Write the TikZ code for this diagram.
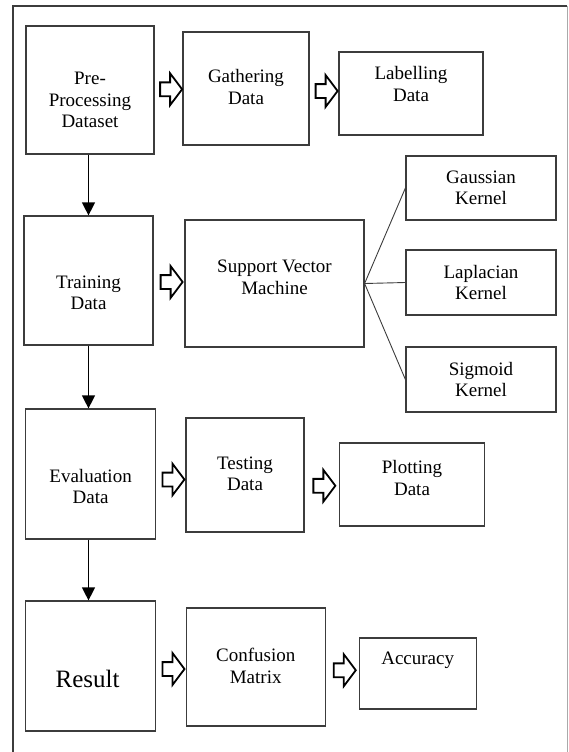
\documentclass[tikz,border=0pt]{standalone}
\usepackage{fontspec}
\setmainfont{Liberation Serif}
\newfontfamily\figfont{Liberation Serif}
\usetikzlibrary{calc,arrows.meta,positioning,shapes.arrows}
\definecolor{boxgray}{RGB}{60,60,60}
\definecolor{framegray}{RGB}{170,170,170}

\begin{document}
\begin{tikzpicture}[x=1pt,y=-1pt,
  blk/.style={draw=boxgray, line width=1.2pt, inner sep=0pt},
  txt/.style={align=center, font=\figfont\fontsize{19}{21.5}\selectfont, inner sep=0pt},
  hollow/.style={single arrow, draw=black, fill=white, line width=1.8pt,
    inner xsep=0pt, inner ysep=6pt, text height=0pt, text depth=0pt,
    minimum height=22pt, single arrow head extend=9pt, single arrow tip angle=106},
  down/.style={-{Triangle[width=13pt,length=13pt]}, line width=1.2pt},
  kern/.style={draw=boxgray, line width=0.9pt}]
\useasboundingbox (0,0) rectangle (568,752);
% frame
\draw[boxgray, line width=1.2pt] (13,752) -- (13,6) -- (567,6);
\draw[framegray, line width=1pt] (567,6) -- (567,752);

% row 1
\node[blk, minimum width=128, minimum height=128] (pre) at (90,90) {};
\node[txt] (preT) at ($(pre)+(0,10)$) {Pre-\\Processing\\Dataset};
\node[blk, minimum width=126, minimum height=113] (gat) at (246,88.5) {};
\node[txt] (gatT) at ($(gat)+(0,-1.5)$) {Gathering\\Data};
\node[blk, minimum width=144, minimum height=83] (lab) at (411,93.5) {};
\node[txt] (labT) at ($(lab)+(0,-9.5)$) {Labelling\\Data};

% row 2
\node[blk, minimum width=129, minimum height=129] (train) at (88.5,280.5) {};
\node[txt] (trainT) at ($(train)+(0,12.5)$) {Training\\Data};
\node[blk, minimum width=179, minimum height=127] (svm) at (274.5,283.5) {};
\node[txt] (svmT) at ($(svm)+(0,-6)$) {Support Vector\\Machine};
\node[blk, minimum width=150, minimum height=64] (gau) at (481,188) {};
\node[txt] (gauT) at (gau) {Gaussian\\Kernel};
\node[blk, minimum width=150, minimum height=65] (lap) at (481,282.5) {};
\node[txt] (lapT) at (lap) {Laplacian\\Kernel};
\node[blk, minimum width=150, minimum height=65] (sig) at (481,379.5) {};
\node[txt] (sigT) at (sig) {Sigmoid\\Kernel};

% row 3
\node[blk, minimum width=130, minimum height=130] (eval) at (90.6,474) {};
\node[txt] (evalT) at ($(eval)+(0,12.5)$) {Evaluation\\Data};
\node[blk, minimum width=118, minimum height=114] (test) at (245,475) {};
\node[txt] (testT) at ($(test)+(0,-1)$) {Testing\\Data};
\node[blk, minimum width=145, minimum height=83] (plot) at (412,484.5) {};
\node[txt] (plotT) at ($(plot)+(0,-6.5)$) {Plotting\\Data};

% row 4
\node[blk, minimum width=130, minimum height=130] (res) at (90.6,666) {};
\node[txt, font=\figfont\fontsize{25}{28}\selectfont] (resT) at ($(res)+(-3,12.5)$) {Result};
\node[blk, minimum width=139, minimum height=118] (conf) at (255.7,667) {};
\node[txt] (confT) at ($(conf)+(0,-1)$) {Confusion\\Matrix};
\node[blk, minimum width=117, minimum height=71] (acc) at (417.7,673.5) {};
\node[txt] (accT) at ($(acc)+(0,-13.5)$) {Accuracy};

% hollow arrows
\node[hollow] (h1) at ($(pre.east)!0.5!(gat.west)$) {};
\node[hollow] (h2) at ($(gat.east)!0.5!(lab.west)$) {};
\node[hollow] (h3) at ($(train.east)!0.5!(svm.west)$) {};
\node[hollow] (h4) at ($(eval.east)!0.5!(test.west)+(0,5)$) {};
\node[hollow] (h5) at ($(test.east)!0.5!(plot.west)+(0,6)$) {};
\node[hollow] (h6) at ($(res.east)!0.5!(conf.west)+(0,2.5)$) {};
\node[hollow] (h7) at ($(conf.east)!0.5!(acc.west)$) {};

% down arrows
\draw[down] (train.north |- pre.south) -- (train.north);
\draw[down] (train.south) -- (train.south |- eval.north);
\draw[down] (train.south |- eval.south) -- (train.south |- res.north);

% kernels
\draw[kern] (svm.east) -- (gau.west);
\draw[kern] (svm.east) -- (lap.west);
\draw[kern] (svm.east) -- (sig.west);
\end{tikzpicture}
\end{document}
